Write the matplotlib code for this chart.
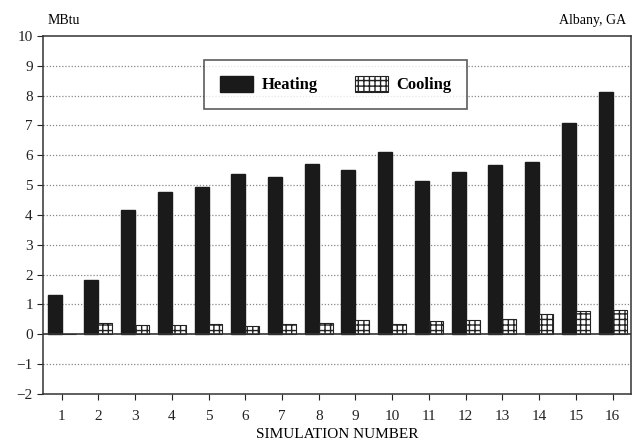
import numpy as np
import matplotlib.pyplot as plt

sims = np.arange(1, 17)
heating = [1.32, 1.8, 4.15, 4.76, 4.92, 5.38, 5.26, 5.72, 5.51, 6.12, 5.15, 5.45, 5.68, 5.78, 7.07, 8.12]
cooling = [0.0, 0.37, 0.31, 0.3, 0.35, 0.28, 0.33, 0.38, 0.46, 0.33, 0.43, 0.47, 0.5, 0.67, 0.76, 0.82]

plt.rcParams['font.family'] = ['Liberation Serif', 'DejaVu Serif']

fig = plt.figure(figsize=(6.36, 4.43), dpi=100)
ax = fig.add_axes([0.068, 0.111, 0.924, 0.808])

w = 0.38
ax.bar(sims - w / 2, heating, w, color='#1a1a1a', edgecolor='#1a1a1a', label='Heating', zorder=3)
ax.bar(sims + w / 2, cooling, w, color='white', edgecolor='#222222', hatch='+++',
       linewidth=0.8, label='Cooling', zorder=3)

for y in [-1, 1, 2, 3, 4, 5, 6, 7, 8, 9]:
    ax.axhline(y, color='#888888', linestyle=(0, (1, 1.5)), linewidth=0.9, zorder=1)
ax.axhline(0, color='#333333', linewidth=1.2, zorder=4)

ax.set_xlim(0.5, 16.5)
ax.set_ylim(-2, 10)
ax.set_xticks(sims)
ax.set_yticks(range(-2, 11))
ax.set_yticklabels([str(v).replace('-', '\u2212') for v in range(-2, 11)])
ax.tick_params(labelsize=11, direction='out', length=4, colors='#222222')
ax.tick_params(axis='x', pad=8)
for s in ax.spines.values():
    s.set_color('#333333')
    s.set_linewidth(1.1)

ax.set_xlabel('SIMULATION NUMBER', fontsize=11, labelpad=3)
fig.text(0.075, 0.945, 'MBtu', fontsize=10, ha='left')
fig.text(0.985, 0.945, 'Albany, GA', fontsize=10, ha='right')

leg = ax.legend(loc='upper left', bbox_to_anchor=(0.274, 0.933), borderaxespad=0, ncol=2,
                frameon=True, fancybox=False, edgecolor='#333333', handlelength=2.0,
                handleheight=1.1, handletextpad=0.5, columnspacing=2.2, borderpad=0.95,
                prop={'weight': 'bold', 'size': 12})
leg.get_frame().set_linewidth(1.2)

fig.savefig('out.png', dpi=100)
